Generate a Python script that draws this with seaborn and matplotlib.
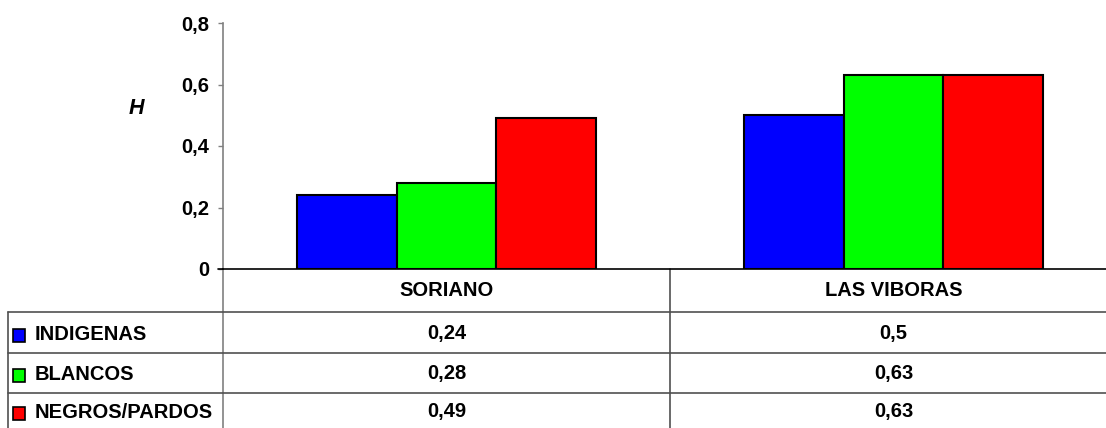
import matplotlib
matplotlib.use("Agg")
import matplotlib.pyplot as plt
import matplotlib.transforms as mtransforms
from matplotlib.patches import Rectangle
import seaborn as sns
import pandas as pd

# ---- data ----
sites = ["SORIANO", "LAS VIBORAS"]
groups = ["INDIGENAS", "BLANCOS", "NEGROS/PARDOS"]
indigenas = [0.24, 0.5]
blancos = [0.28, 0.63]
negros = [0.49, 0.63]
colors = ["#0000FF", "#00FF00", "#FF0000"]
yticks = [0, 0.2, 0.4, 0.6, 0.8]
ylabel = "H"

values = {"INDIGENAS": indigenas, "BLANCOS": blancos, "NEGROS/PARDOS": negros}
rows = []
for g in groups:
    for s, v in zip(sites, values[g]):
        rows.append({"site": s, "group": g, "H": v})
df = pd.DataFrame(rows)

sns.set_style("white")
plt.rcParams["font.family"] = ["Liberation Sans", "DejaVu Sans"]
plt.rcParams["text.color"] = "black"
plt.rcParams["ytick.labelcolor"] = "black"

FS = 14.5
W, Hh = 1106, 428
fig = plt.figure(figsize=(W / 100, Hh / 100), dpi=100)

def fx(px):
    return px / W

def fy(py):
    return (Hh - py) / Hh

ax = fig.add_axes([fx(223), fy(269), fx(894), (269 - 23) / Hh])
sns.barplot(data=df, x="site", y="H", hue="group", hue_order=groups,
            palette=colors, width=0.668, edgecolor="black", linewidth=1.5,
            saturation=1, legend=False, ax=ax, order=sites)
ax.set_xlim(-0.5, 1.5)
ax.set_ylim(0, 0.8)
ax.set_yticks(yticks)
ax.set_yticklabels([("%g" % t).replace(".", ",") for t in yticks],
                   fontsize=FS, fontweight="bold", color="black")
ax.set_xticks([])
ax.set_xlabel("")
ax.set_ylabel("")
for sp in ["top", "right"]:
    ax.spines[sp].set_visible(False)
ax.spines["left"].set_color("#808080")
ax.spines["left"].set_linewidth(1.2)
ax.spines["bottom"].set_color("black")
ax.spines["bottom"].set_linewidth(1.2)
ax.tick_params(axis="y", direction="out", length=3.6, width=1, color="#808080",
               pad=6.5, left=True)

fig.text(fx(136), fy(108), ylabel, fontsize=FS + 1, fontweight="bold",
         fontstyle="italic", ha="center", va="center")

# ---- data table ----
tr = mtransforms.blended_transform_factory(ax.transData, fig.transFigure)
lc = "#505050"
lw = 1.2
for xv in [-0.5, 0.5]:
    ax.plot([xv, xv], [fy(269), fy(430)], transform=tr,
            color=lc if xv > -0.5 else "#808080", lw=lw, clip_on=False)
fig.add_artist(plt.Line2D([fx(7.5), fx(7.5)], [fy(312), fy(430)], color=lc, lw=lw,
                          transform=fig.transFigure))
for py in [312, 353, 393]:
    fig.add_artist(plt.Line2D([fx(7.5), 1.0], [fy(py), fy(py)], color=lc, lw=lw,
                              transform=fig.transFigure))
fig.add_artist(plt.Line2D([fx(218), fx(223)], [fy(269), fy(269)], color="black", lw=1.2,
                          transform=fig.transFigure))

for i, s in enumerate(sites):
    ax.text(i, fy(290.5), s, transform=tr, ha="center", va="center",
            fontsize=FS, fontweight="bold", clip_on=False)

row_centers = [334, 374, 412]
for g, c, yc in zip(groups, colors, row_centers):
    fig.add_artist(Rectangle((fx(13), fy(yc + 8)), fx(12), 13 / Hh, facecolor=c,
                             edgecolor="black", lw=1.2, transform=fig.transFigure))
    fig.text(fx(35), fy(yc), g, ha="left", va="center", fontsize=FS, fontweight="bold")
    for i, v in enumerate(values[g]):
        ax.text(i, fy(yc), ("%g" % v).replace(".", ","), transform=tr, ha="center",
                va="center", fontsize=FS, fontweight="bold", clip_on=False)

fig.savefig("out.png", dpi=100)
